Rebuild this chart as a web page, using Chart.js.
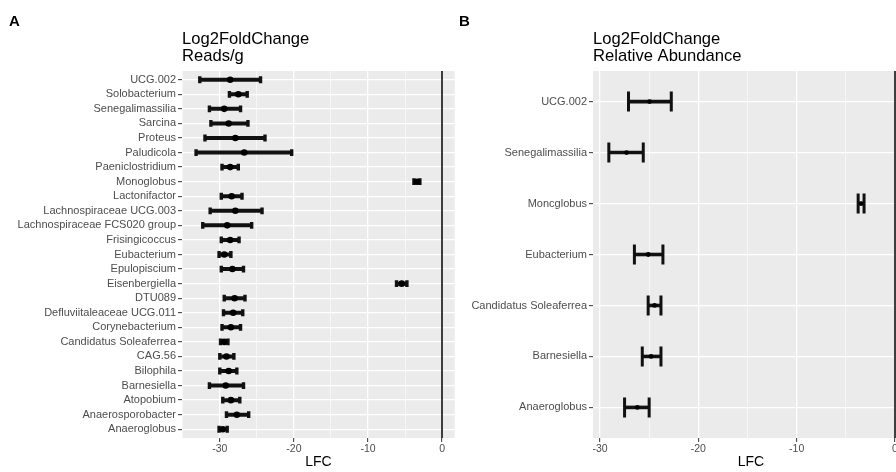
<!DOCTYPE html>
<html>
<head>
<meta charset="utf-8">
<script src="https://cdn.jsdelivr.net/npm/chart.js@4.4.1/dist/chart.umd.min.js"></script>
<style>
  html, body { margin: 0; padding: 0; background: #fff; width: 896px; height: 472px; overflow: hidden; }
  #wrap { position: relative; width: 896px; height: 472px; overflow: hidden; }
  canvas { position: absolute; top: 0; }
  #cA { left: 0; }
  #cB { left: 450px; }
</style>
</head>
<body>
<div id="wrap">
  <canvas id="cA" width="458" height="472"></canvas>
  <canvas id="cB" width="462" height="472"></canvas>
</div>
<script>
// Panel A: Log2FoldChange, Reads/g (top to bottom)
const taxaA = ["UCG.002", "Solobacterium", "Senegalimassilia", "Sarcina", "Proteus", "Paludicola",
  "Paeniclostridium", "Monoglobus", "Lactonifactor", "Lachnospiraceae UCG.003", "Lachnospiraceae FCS020 group",
  "Frisingicoccus", "Eubacterium", "Epulopiscium", "Eisenbergiella", "DTU089", "Defluviitaleaceae UCG.011",
  "Corynebacterium", "Candidatus Soleaferrea", "CAG.56", "Bilophila", "Barnesiella", "Atopobium",
  "Anaerosporobacter", "Anaeroglobus"];
const lfcA  = [-28.6, -27.5, -29.4, -28.8, -27.9, -26.7, -28.6, -3.4, -28.4, -27.9, -29.0, -28.6, -29.4,
  -28.3, -5.45, -28.0, -28.2, -28.5, -29.4, -29.1, -28.8, -29.2, -28.5, -27.7, -29.6];
const lowA  = [-32.7, -28.7, -31.4, -31.2, -32.0, -33.2, -29.7, -3.8, -29.8, -31.3, -32.3, -29.8, -30.1,
  -29.8, -6.15, -29.4, -29.5, -29.7, -29.9, -30.0, -30.0, -31.4, -29.6, -29.1, -30.1];
const highA = [-24.5, -26.3, -27.2, -26.2, -23.9, -20.3, -27.5, -3.0, -27.0, -24.3, -25.7, -27.4, -28.5,
  -26.8, -4.75, -26.6, -26.9, -27.2, -28.9, -28.1, -27.7, -26.8, -27.3, -26.1, -29.0];

// Panel B: Log2FoldChange, Relative Abundance
const taxaB = ["UCG.002", "Senegalimassilia", "Moncglobus", "Eubacterium", "Candidatus Soleaferrea",
  "Barnesiella", "Anaeroglobus"];
const lfcB  = [-24.95, -27.3, -3.45, -25.1, -24.45, -24.8, -26.2];
const lowB  = [-27.1, -29.1, -3.75, -26.5, -25.1, -25.7, -27.5];
const highB = [-22.75, -25.6, -3.15, -23.6, -23.8, -23.8, -25.0];

// x ticks: labelled majors, unlabelled minors
const majorTicks = [-30, -20, -10, 0];
const minorTicks = [-35, -25, -15, -5];

Chart.defaults.font.family = "'Liberation Sans', Arial, sans-serif";
Chart.defaults.animation = false;

const GREY = "#4d4d4d";
const isMajor = (v) => majorTicks.includes(v);

// grey panel background
const panelBg = {
  id: "panelBg",
  beforeDraw(chart) {
    const { ctx, chartArea: a } = chart;
    ctx.save();
    ctx.fillStyle = "#ebebeb";
    ctx.fillRect(a.left, a.top, a.right - a.left, a.bottom - a.top);
    ctx.restore();
  },
};

// error bars with end caps + vline at 0, drawn under the points
const errorBars = {
  id: "errorBars",
  beforeDatasetsDraw(chart) {
    const { ctx, chartArea: a, scales: { x, y } } = chart;
    const ds = chart.data.datasets[0];
    ctx.save();
    ctx.beginPath();
    ctx.rect(a.left, a.top, a.right - a.left, a.bottom - a.top);
    ctx.clip();
    // zero line
    const x0 = Math.round(x.getPixelForValue(0));
    ctx.strokeStyle = "#000";
    ctx.lineWidth = 1.5;
    ctx.beginPath(); ctx.moveTo(x0, a.top); ctx.lineTo(x0, a.bottom); ctx.stroke();
    ctx.strokeStyle = "#111";
    ctx.lineCap = "butt";
    ds.lo.forEach((lo, i) => {
      const py = y.getPixelForValue(i);
      const x1 = x.getPixelForValue(lo), x2 = x.getPixelForValue(ds.hi[i]);
      ctx.lineWidth = ds.barW;
      ctx.beginPath(); ctx.moveTo(x1, py); ctx.lineTo(x2, py); ctx.stroke();
      ctx.lineWidth = ds.capW;
      ctx.beginPath();
      ctx.moveTo(x1, py - ds.capH); ctx.lineTo(x1, py + ds.capH);
      ctx.moveTo(x2, py - ds.capH); ctx.lineTo(x2, py + ds.capH);
      ctx.stroke();
    });
    ctx.restore();
  },
};

// panel letter and two-line title
const panelTitle = {
  id: "panelTitle",
  afterDraw(chart) {
    const { ctx, chartArea: a } = chart;
    const t = chart.config.options.panel;
    ctx.save();
    ctx.fillStyle = "#000";
    ctx.textBaseline = "alphabetic";
    ctx.font = "bold 15px 'Liberation Sans', Arial, sans-serif";
    ctx.fillText(t.letter, t.letterX, 26);
    ctx.font = "16.6px 'Liberation Sans', Arial, sans-serif";
    ctx.fillText(t.lines[0], a.left, 43.5);
    ctx.fillText(t.lines[1], a.left, 61);
    ctx.restore();
  },
};

function makePanel(id, taxa, lfc, lo, hi, opt) {
  return new Chart(document.getElementById(id), {
    type: "scatter",
    data: {
      datasets: [{
        data: lfc.map((v, i) => ({ x: v, y: i })),
        lo, hi,
        barW: opt.barW, capW: opt.capW, capH: opt.capH,
        pointRadius: opt.pointR, pointHoverRadius: opt.pointR,
        backgroundColor: "#000", borderWidth: 0,
      }],
    },
    plugins: [panelBg, errorBars, panelTitle],
    options: {
      responsive: false,
      panel: opt.panel,
      layout: { padding: { top: 71, left: 0, right: opt.padRight, bottom: 0 } },
      plugins: { legend: { display: false }, tooltip: { enabled: false } },
      scales: {
        x: {
          type: "linear", min: opt.xMin, max: opt.xMax,
          afterBuildTicks: (s) => { s.ticks = minorTicks.concat(majorTicks).sort((p, q) => p - q).map((v) => ({ value: v })); },
          afterFit: (s) => { s.height = 34; },
          border: { display: false },
          grid: {
            color: "#fff",
            lineWidth: (c) => (c.tick && isMajor(c.tick.value) ? 1.3 : 0.6),
            tickColor: (c) => (c.tick && isMajor(c.tick.value) ? "#333" : "rgba(0,0,0,0)"),
            tickLength: 4, tickWidth: 1,
          },
          ticks: {
            autoSkip: false, maxRotation: 0, padding: 1,
            color: GREY, font: { size: 10.5 },
            callback: (v) => (isMajor(v) ? String(v) : ""),
          },
          title: { display: true, text: "LFC", color: "#000", font: { size: 14 }, padding: { top: 0, bottom: 1 } },
        },
        y: {
          type: "linear", reverse: true, min: -0.6, max: taxa.length - 1 + 0.6,
          afterBuildTicks: (s) => { s.ticks = taxa.map((_, i) => ({ value: i })); },
          afterFit: (s) => { s.width = opt.axisW; },
          border: { display: false },
          grid: { color: "#fff", lineWidth: 1.3, tickColor: "#333", tickLength: 4, tickWidth: 1 },
          ticks: {
            autoSkip: false, padding: 2, color: GREY, font: { size: 11 },
            callback: (v) => taxa[v] ?? "",
          },
        },
      },
    },
  });
}

makePanel("cA", taxaA, lfcA, lowA, highA, {
  xMin: -35.1, xMax: 1.7, axisW: 182, padRight: 2,
  barW: 4, capW: 3.4, capH: 3.4, pointR: 3.3,
  panel: { letter: "A", letterX: 9, lines: ["Log2FoldChange", "Reads/g"] },
});
makePanel("cB", taxaB, lfcB, lowB, highB, {
  xMin: -30.71, xMax: 1.42, axisW: 143, padRight: 3,
  barW: 3.6, capW: 3.0, capH: 10, pointR: 2.4,
  panel: { letter: "B", letterX: 9, lines: ["Log2FoldChange", "Relative Abundance"] },
});
</script>
</body>
</html>
